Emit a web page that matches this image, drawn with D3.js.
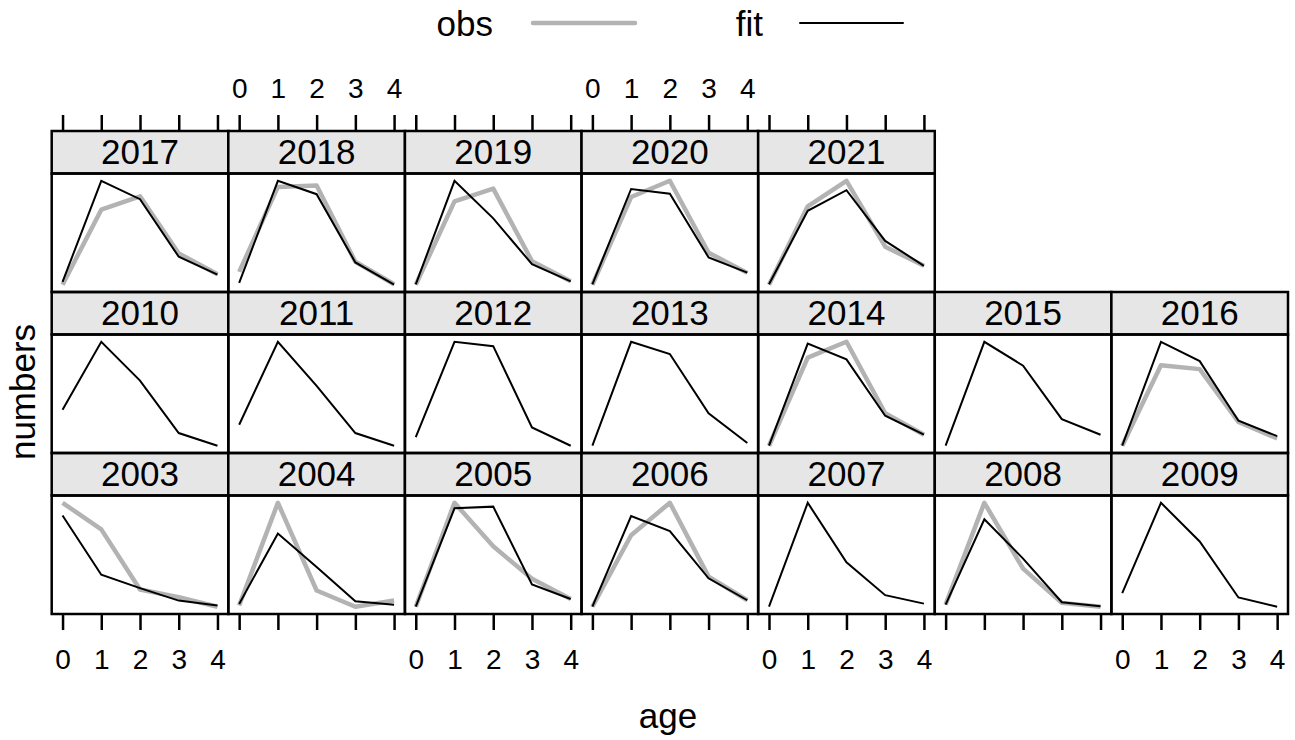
<!DOCTYPE html>
<html>
<head>
<meta charset="utf-8">
<script src="https://cdn.jsdelivr.net/npm/d3@7"></script>
<style>
  html, body { margin: 0; padding: 0; background: #fff; }
  svg { display: block; font-family: "Liberation Sans", Arial, sans-serif; }
</style>
</head>
<body>
<svg id="chart" width="1295" height="740"></svg>
<script>
// ---- data (relative numbers) ----
const years = [2003, 2004, 2005, 2006, 2007, 2008, 2009,
               2010, 2011, 2012, 2013, 2014, 2015, 2016,
               2017, 2018, 2019, 2020, 2021];
const ages = [0, 1, 2, 3, 4];
const ageTicks = ["0", "1", "2", "3", "4"];
const fitValues = [
  [87.8, 30.8, 17.9, 5.9, 1.1],   // 2003
  [2.7, 70.5, 38.3, 5.3, 2.0],    // 2004
  [0.1, 94.7, 96.3, 21.4, 7.5],   // 2005
  [0.4, 87.3, 72.8, 27.6, 6.6],   // 2006
  [0, 100, 42.8, 11.1, 3.0],      // 2007
  [2.0, 84.1, 46.3, 4.3, 0.4],    // 2008
  [13.0, 100, 62.8, 8.9, 0],      // 2009
  [34.5, 100, 62.6, 12.2, 0],     // 2010
  [20.2, 100, 57.5, 12.2, 0],     // 2011
  [8.3, 100, 95.8, 17.6, 0],      // 2012
  [0, 100, 88.2, 31.3, 2.6],      // 2013
  [1.0, 98.3, 83.3, 29.6, 11.5],  // 2014
  [0, 100, 77.0, 25.6, 10.6],     // 2015
  [0.4, 100, 81.5, 24.3, 9.6],    // 2016
  [2.7, 100, 82.3, 26.9, 9.8],    // 2017
  [1.7, 100, 87.1, 21.4, 0],      // 2018
  [0.4, 100, 63.8, 19.8, 3.3],    // 2019
  [0.4, 92.1, 87.6, 26.3, 11.7],  // 2020
  [0.4, 71.1, 90.9, 42.1, 18.2]   // 2021
];
const obsValues = [
  [100, 74.4, 16.6, 9.1, 0],      // 2003
  [1.1, 100, 15.6, 0, 5.9],       // 2004
  [0.1, 100, 58.2, 26.9, 7.5],    // 2005
  [0.4, 68.9, 100, 29.2, 6.6],    // 2006
  null,                           // 2007
  [2.0, 100, 36.6, 3.7, 0],       // 2008
  null,                           // 2009
  null,                           // 2010
  null,                           // 2011
  null,                           // 2012
  null,                           // 2013
  [1.0, 84.9, 100, 31.9, 11.5],   // 2014
  null,                           // 2015
  [0.4, 77.6, 73.8, 23.3, 7.4],   // 2016
  [0, 72.2, 85.1, 30.1, 10.1],    // 2017
  [12.4, 94.1, 95.4, 22.1, 0.4],  // 2018
  [0, 80.2, 92.5, 22.7, 3.3],     // 2019
  [0, 84.4, 100, 30.8, 11.4],     // 2020
  [0, 75.4, 100, 36.6, 18.2]      // 2021
];
const seriesNames = ["obs", "fit"];

// ---- layout ----
const svg = d3.select("#chart");
const nCol = 7, nRow = 3;
const gridLeft = 51.7, gridRight = 1288;
const gridTop = 131, gridBottom = 614;
const colW = (gridRight - gridLeft) / nCol;
const rowH = (gridBottom - gridTop) / nRow;
const stripH = 42.5;
const obsColor = "#b3b3b3", fitColor = "#000000";
const fontBig = 35, fontTick = 28;

// x scale (lattice numeric padding 7%)
const xPad = 0.07 * (d3.max(ages) - d3.min(ages));
const xDomain = [d3.min(ages) - xPad, d3.max(ages) + xPad];

const panelG = svg.append("g");

years.forEach((yr, i) => {
  const col = i % nCol;
  const rowFromBottom = Math.floor(i / nCol);
  const row = nRow - 1 - rowFromBottom;   // 0 = top
  const x0 = gridLeft + col * colW;
  const y0 = gridTop + row * rowH;
  const pTop = y0 + stripH, pBot = y0 + rowH;

  const fit = fitValues[i], obs = obsValues[i];
  const all = fit.concat(obs || []);
  const lo = d3.min(all), hi = d3.max(all), r = hi - lo;
  const x = d3.scaleLinear().domain(xDomain).range([x0, x0 + colW]);
  const y = d3.scaleLinear().domain([lo - 0.07 * r, hi + 0.07 * r]).range([pBot, pTop]);

  const g = panelG.append("g");
  // strip
  g.append("rect").attr("x", x0).attr("y", y0).attr("width", colW).attr("height", stripH)
    .attr("fill", "#e6e6e6").attr("stroke", "#000").attr("stroke-width", 2.5);
  g.append("text").attr("x", x0 + colW / 2).attr("y", y0 + stripH / 2 + fontBig * 0.34)
    .attr("text-anchor", "middle").attr("font-size", fontBig).attr("fill", "#000").text(yr);

  const line = d3.line().x((d, j) => x(ages[j])).y(d => y(d));
  if (obs) {
    g.append("path").datum(obs).attr("d", line).attr("fill", "none")
      .attr("stroke", obsColor).attr("stroke-width", 4.5).attr("stroke-linejoin", "round");
  }
  g.append("path").datum(fit).attr("d", line).attr("fill", "none")
    .attr("stroke", fitColor).attr("stroke-width", 2).attr("stroke-linejoin", "miter");

  // panel border
  g.append("rect").attr("x", x0).attr("y", pTop).attr("width", colW).attr("height", rowH - stripH)
    .attr("fill", "none").attr("stroke", "#000").attr("stroke-width", 2.5);

  // bottom axis on the bottom row
  if (rowFromBottom === 0) {
    const ax = d3.axisBottom(x).tickValues(ages).tickSize(16).tickPadding(19)
      .tickFormat((d, j) => (col % 2 === 0 ? ageTicks[j] : ""));
    const a = svg.append("g").attr("transform", `translate(0,${pBot})`).call(ax);
    a.select(".domain").remove();
    a.selectAll(".tick line").attr("stroke", "#000").attr("stroke-width", 2.5);
    a.selectAll(".tick text").attr("font-size", fontTick).attr("fill", "#000")
      .attr("font-family", "Liberation Sans, Arial, sans-serif");
  }
  // top axis on the top row
  if (row === 0) {
    const ax = d3.axisTop(x).tickValues(ages).tickSize(16).tickPadding(17)
      .tickFormat((d, j) => (col % 2 === 1 ? ageTicks[j] : ""));
    const a = svg.append("g").attr("transform", `translate(0,${y0})`).call(ax);
    a.select(".domain").remove();
    a.selectAll(".tick line").attr("stroke", "#000").attr("stroke-width", 2.5);
    a.selectAll(".tick text").attr("font-size", fontTick).attr("fill", "#000")
      .attr("font-family", "Liberation Sans, Arial, sans-serif");
  }
});

// axis titles
svg.append("text").attr("x", 668).attr("y", 728).attr("text-anchor", "middle")
  .attr("font-size", fontBig).attr("fill", "#000").text("age");
svg.append("text").attr("transform", "translate(35,392) rotate(-90)").attr("text-anchor", "middle")
  .attr("font-size", fontBig).attr("fill", "#000").text("numbers");

// legend
const legend = svg.append("g");
const legendItems = [
  {name: seriesNames[0], color: obsColor, width: 4.5, tx: 493, lx: [533, 635]},
  {name: seriesNames[1], color: fitColor, width: 2, tx: 763, lx: [800, 903]}
];
legendItems.forEach(it => {
  legend.append("text").attr("x", it.tx).attr("y", 36).attr("text-anchor", "end")
    .attr("font-size", fontBig).attr("fill", "#000").text(it.name);
  legend.append("line").attr("x1", it.lx[0]).attr("x2", it.lx[1]).attr("y1", 23).attr("y2", 23)
    .attr("stroke", it.color).attr("stroke-width", it.width).attr("stroke-linecap", "round");
});
</script>
</body>
</html>
